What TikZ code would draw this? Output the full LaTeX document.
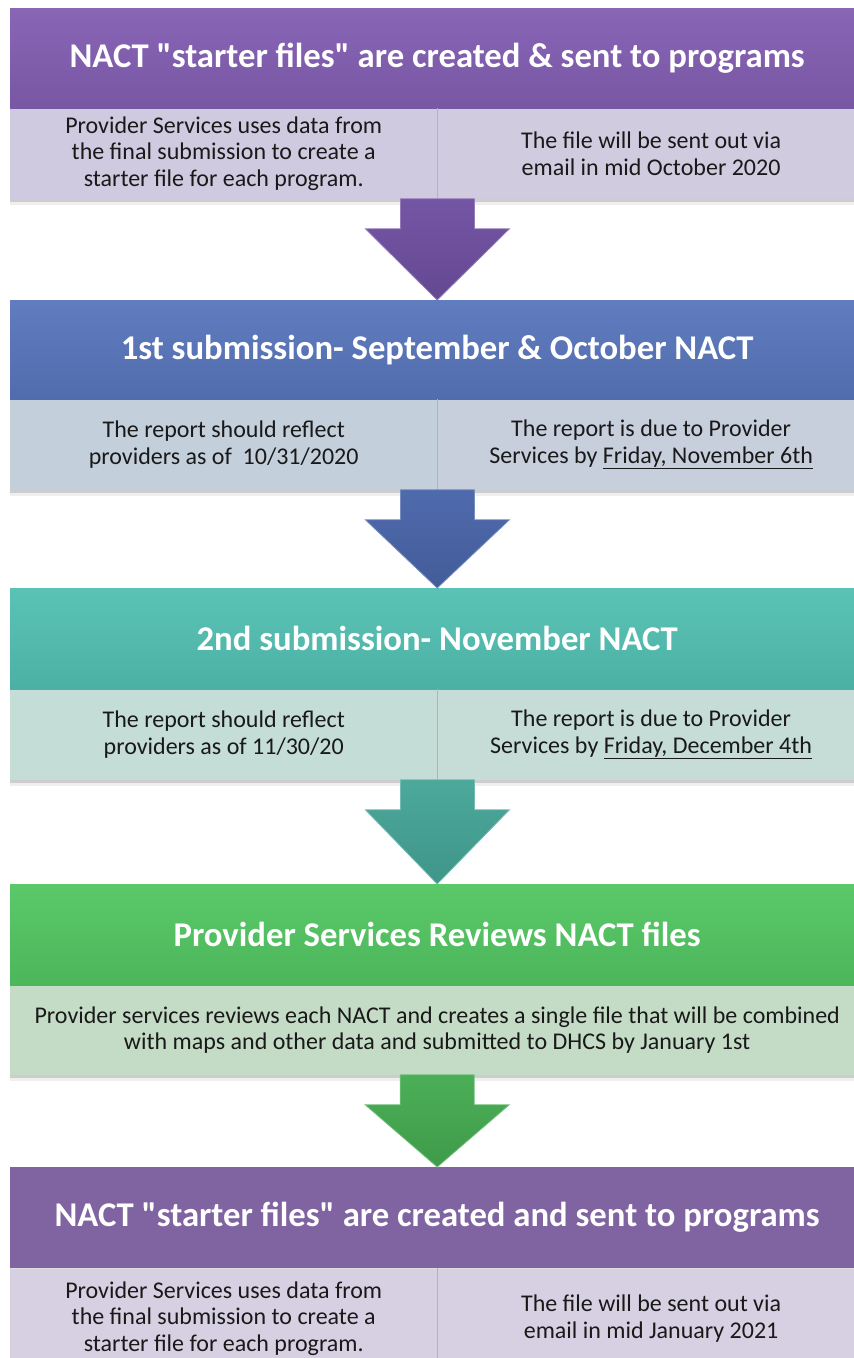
\documentclass[tikz,border=0pt]{standalone}
\usepackage{fontspec}
\setmainfont{Carlito}[Ligatures=TeXOff]
\usetikzlibrary{positioning}
\usetikzlibrary{calc}
\usetikzlibrary{shadows}
\definecolor{headA}{RGB}{130,94,178}
\definecolor{cellA}{RGB}{208,202,224}
\definecolor{headB}{RGB}{88,118,188}
\definecolor{cellB}{RGB}{196,207,220}
\definecolor{headC}{RGB}{82,192,178}
\definecolor{cellC}{RGB}{197,221,215}
\definecolor{headD}{RGB}{82,198,98}
\definecolor{cellD}{RGB}{196,220,198}
\definecolor{headE}{RGB}{128,100,162}
\definecolor{cellE}{RGB}{214,208,226}
\definecolor{arrowA}{RGB}{112,80,162}
\definecolor{arrowB}{RGB}{74,102,170}
\definecolor{arrowC}{RGB}{70,166,152}
\definecolor{arrowD}{RGB}{70,172,82}
\definecolor{cellline}{RGB}{178,178,186}

\tikzset{
  headbox/.style={rectangle, anchor=north west, inner sep=0pt,
    minimum width=854pt, minimum height=100pt, text=white,
    font=\fontsize{34.7}{40}\selectfont\bfseries,
    drop shadow={shadow xshift=0pt, shadow yshift=-3pt, opacity=0.25}},
  cellbox/.style={rectangle, inner sep=0pt,
    minimum width=427pt, minimum height=90pt, align=center, text=black!90,
    font=\fontsize{24}{26.5}\selectfont,
    drop shadow={shadow xshift=0pt, shadow yshift=-6pt, opacity=0.12},
    drop shadow={shadow xshift=0pt, shadow yshift=-3pt, opacity=0.3}},
  widecell/.style={cellbox, minimum width=854pt}
}

% down arrow from the bottom of a block to the top of the next one
\newcommand{\flowarrow}[3]{%
  \shade[top color=#3!97!white, bottom color=#3!90!black, draw=#3!75!white, line width=0.8pt]
    ($(#1)+(-37,0)$) -- ($(#1)+(37,0)$) -- ($(#1)+(37,30)$) -- ($(#1)+(72,30)$)
    -- (#2.north) -- ($(#1)+(-72,30)$) -- ($(#1)+(-37,30)$) -- cycle;}

\begin{document}
\begin{tikzpicture}[x=1pt,y=-1pt]
\useasboundingbox (0,0) rectangle (854,1358);
\clip (0,0) rectangle (854,1358);
\fill [white] (0,0) rectangle (854,1358);

% block 1
\node [headbox, top color=headA!95!white, bottom color=headA!92!black] (h1) at (10,8)
  {NACT "starter files" are created \& sent to programs};
\node [cellbox, fill=cellA, below right=0pt and 0pt of h1.south west] (c1l)
  {Provider Services uses data from\\the final submission to create a\\starter file for each program.};
\node [cellbox, fill=cellA!90!cellE, right=0pt of c1l] (c1r)
  {The file will be sent out via\\email in mid October 2020};
\draw [cellline] (c1l.north east) -- (c1l.south east);

% block 2
\node [headbox, minimum height=99pt, top color=headB!95!white, bottom color=headB!92!black] (h2) at (10,300)
  {1st submission- September \& October NACT};
\node [cellbox, fill=cellB, below right=0pt and 0pt of h2.south west] (c2l)
  {The report should reflect\\providers as of~ 10/31/2020};
\node [cellbox, fill=cellB!85!cellE, right=0pt of c2l] (c2r)
  {The report is due to Provider\\Services by \underline{Friday, November 6th}};
\draw [cellline] (c2l.north east) -- (c2l.south east);

% block 3
\node [headbox, minimum height=101pt, top color=headC!95!white, bottom color=headC!92!black] (h3) at (10,588)
  {2nd submission- November NACT};
\node [cellbox, fill=cellC, below right=0pt and 0pt of h3.south west] (c3l)
  {The report should reflect\\providers as of 11/30/20};
\node [cellbox, fill=cellC!95!cellB, right=0pt of c3l] (c3r)
  {The report is due to Provider\\Services by \underline{Friday, December 4th}};
\draw [cellline] (c3l.north east) -- (c3l.south east);

% block 4
\node [headbox, minimum height=101pt, top color=headD!95!white, bottom color=headD!92!black] (h4) at (10,884)
  {Provider Services Reviews NACT files};
\node [widecell, minimum height=89pt, fill=cellD, below right=0pt and 0pt of h4.south west] (c4)
  {Provider services reviews each NACT and creates a single file that will be combined\\with maps and other data and submitted to DHCS by January 1st};

% block 5
\node [headbox, minimum height=101pt, fill=headE] (h5) at (10,1167)
  {NACT "starter files" are created and sent to programs};
\node [cellbox, minimum height=100pt, fill=cellE, below right=0pt and 0pt of h5.south west] (c5l)
  {Provider Services uses data from\\the final submission to create a\\starter file for each program.};
\node [cellbox, minimum height=100pt, fill=cellE, right=0pt of c5l] (c5r)
  {The file will be sent out via\\email in mid January 2021};
\draw [cellline] (c5l.north east) -- (c5l.south east);

% arrows
\flowarrow{c1l.south east}{h2}{arrowA}
\flowarrow{c2l.south east}{h3}{arrowB}
\flowarrow{c3l.south east}{h4}{arrowC}
\flowarrow{c4.south}{h5}{arrowD}
\end{tikzpicture}
\end{document}
